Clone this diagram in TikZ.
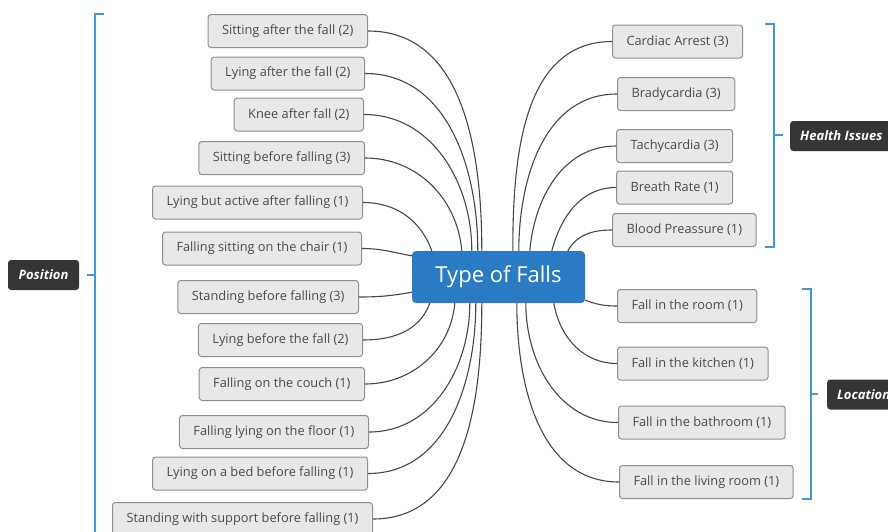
\documentclass[tikz,border=0pt]{standalone}
\usepackage{fontspec}
\setmainfont{Open Sans}
\definecolor{hubblue}{HTML}{2B7BC4}
\definecolor{boxfill}{HTML}{E8E8E8}
\definecolor{boxline}{HTML}{8E8E8E}
\definecolor{boxtext}{HTML}{4A4A4A}
\definecolor{braceblue}{HTML}{3F97DC}
\definecolor{tagfill}{HTML}{353535}

\begin{document}
\begin{tikzpicture}[x=1pt,y=-1pt,
  item/.style={draw=boxline,fill=boxfill,rounded corners=3pt,line width=1pt,
    minimum height=33pt,inner xsep=14pt,inner ysep=0pt,text=boxtext,
    font=\fontsize{12.8}{15}\selectfont},
  hub/.style={fill=hubblue,rounded corners=4pt,minimum width=173pt,
    minimum height=52pt,text=white,font=\fontsize{22}{26}\selectfont},
  tag/.style={fill=tagfill,rounded corners=3pt,minimum height=30pt,inner xsep=10pt,
    text=white,font=\fontsize{13}{15}\selectfont\bfseries\itshape},
  branch/.style={draw=black!72,line width=1.1pt},
  brace/.style={draw=braceblue,line width=1.5pt}]
  \useasboundingbox (0,0) rectangle (888,531);

  % central topic
  \node[hub] (hub) at (498.5,277) {Type of Falls};

  % left: position of the person
  \node[item,anchor=east] (p1) at (368,31) {Sitting after the fall (2)};
  \node[item,anchor=east] (p2) at (365,73.5) {Lying after the fall (2)};
  \node[item,anchor=east] (p3) at (364,114.5) {Knee after fall (2)};
  \node[item,anchor=east] (p4) at (365,158) {Sitting before falling (3)};
  \node[item,anchor=east] (p5) at (363,202.5) {Lying but active after falling (1)};
  \node[item,anchor=east] (p6) at (362,248.5) {Falling sitting on the chair (1)};
  \node[item,anchor=east] (p7) at (359,297) {Standing before falling (3)};
  \node[item,anchor=east] (p8) at (363,340) {Lying before the fall (2)};
  \node[item,anchor=east] (p9) at (365,384) {Falling on the couch (1)};
  \node[item,anchor=east] (p10) at (369,432) {Falling lying on the floor (1)};
  \node[item,anchor=east] (p11) at (368,473.5) {Lying on a bed before falling (1)};
  \node[item,anchor=east] (p12) at (373,519) {Standing with support before falling (1)};

  % right: health issues and location
  \node[item,anchor=west] (h1) at (612,41.5) {Cardiac Arrest (3)};
  \node[item,anchor=west] (h2) at (617,94) {Bradycardia (3)};
  \node[item,anchor=west] (h3) at (616,146) {Tachycardia (3)};
  \node[item,anchor=west] (h4) at (616,187.5) {Breath Rate (1)};
  \node[item,anchor=west] (h5) at (612,230) {Blood Preassure (1)};
  \node[item,anchor=west] (l1) at (617,306) {Fall in the room (1)};
  \node[item,anchor=west] (l2) at (617,363.5) {Fall in the kitchen (1)};
  \node[item,anchor=west] (l3) at (618,422.5) {Fall in the bathroom (1)};
  \node[item,anchor=west] (l4) at (619,482) {Fall in the living room (1)};

  % group tags
  \node[tag,minimum width=71pt] (pos) at (43.5,275) {Position};
  \node[tag,anchor=west] (hea) at (790,136) {Health Issues};
  \node[tag,anchor=west] (loc) at (827,394.5) {Location};

  % brackets
  \draw[brace] (104,14) -- (95,14) -- (95,560);
  \draw[brace] (87,275) -- (95,275);
  \draw[brace] (765,24) -- (774,24) -- (774,247) -- (765,247);
  \draw[brace] (774,135) -- (783,135);
  \draw[brace] (802,289) -- (811,289) -- (811,499) -- (802,499);
  \draw[brace] (811,394) -- (818,394);

  % branches, left side
  \draw[branch] (p1.east) to[out=0,in=90] ([xshift=70]hub.north west);
  \draw[branch] (p2.east) to[out=0,in=90] ([xshift=66]hub.north west);
  \draw[branch] (p3.east) to[out=0,in=90] ([xshift=60]hub.north west);
  \draw[branch] (p4.east) to[out=0,in=95] ([xshift=50]hub.north west);
  \draw[branch] (p5.east) to[out=0,in=110] ([xshift=20]hub.north west);
  \draw[branch] (p6.east) to[out=0,in=170] ([yshift=-5]hub.north west);
  \draw[branch] (p7.east) to[out=0,in=190] ([yshift=11]hub.south west);
  \draw[branch] (p8.east) to[out=0,in=-110] ([xshift=18]hub.south west);
  \draw[branch] (p9.east) to[out=0,in=-95] ([xshift=43]hub.south west);
  \draw[branch] (p10.east) to[out=0,in=-90] ([xshift=58]hub.south west);
  \draw[branch] (p11.east) to[out=0,in=-90] ([xshift=64]hub.south west);
  \draw[branch] (p12.east) to[out=0,in=-90] ([xshift=70]hub.south west);

  % branches, right side
  \draw[branch] (h1.west) to[out=180,in=90] ([xshift=101]hub.north west);
  \draw[branch] (h2.west) to[out=180,in=90] ([xshift=107]hub.north west);
  \draw[branch] (h3.west) to[out=180,in=85] ([xshift=118]hub.north west);
  \draw[branch] (h4.west) to[out=180,in=75] ([xshift=140]hub.north west);
  \draw[branch] (h5.west) to[out=180,in=60] ([xshift=156]hub.north west);
  \draw[branch] (l1.west) to[out=180,in=-20] ([yshift=3]hub.south east);
  \draw[branch] (l2.west) to[out=180,in=-80] ([xshift=142]hub.south west);
  \draw[branch] (l3.west) to[out=180,in=-90] ([xshift=114]hub.south west);
  \draw[branch] (l4.west) to[out=180,in=-90] ([xshift=105]hub.south west);
\end{tikzpicture}
\end{document}
